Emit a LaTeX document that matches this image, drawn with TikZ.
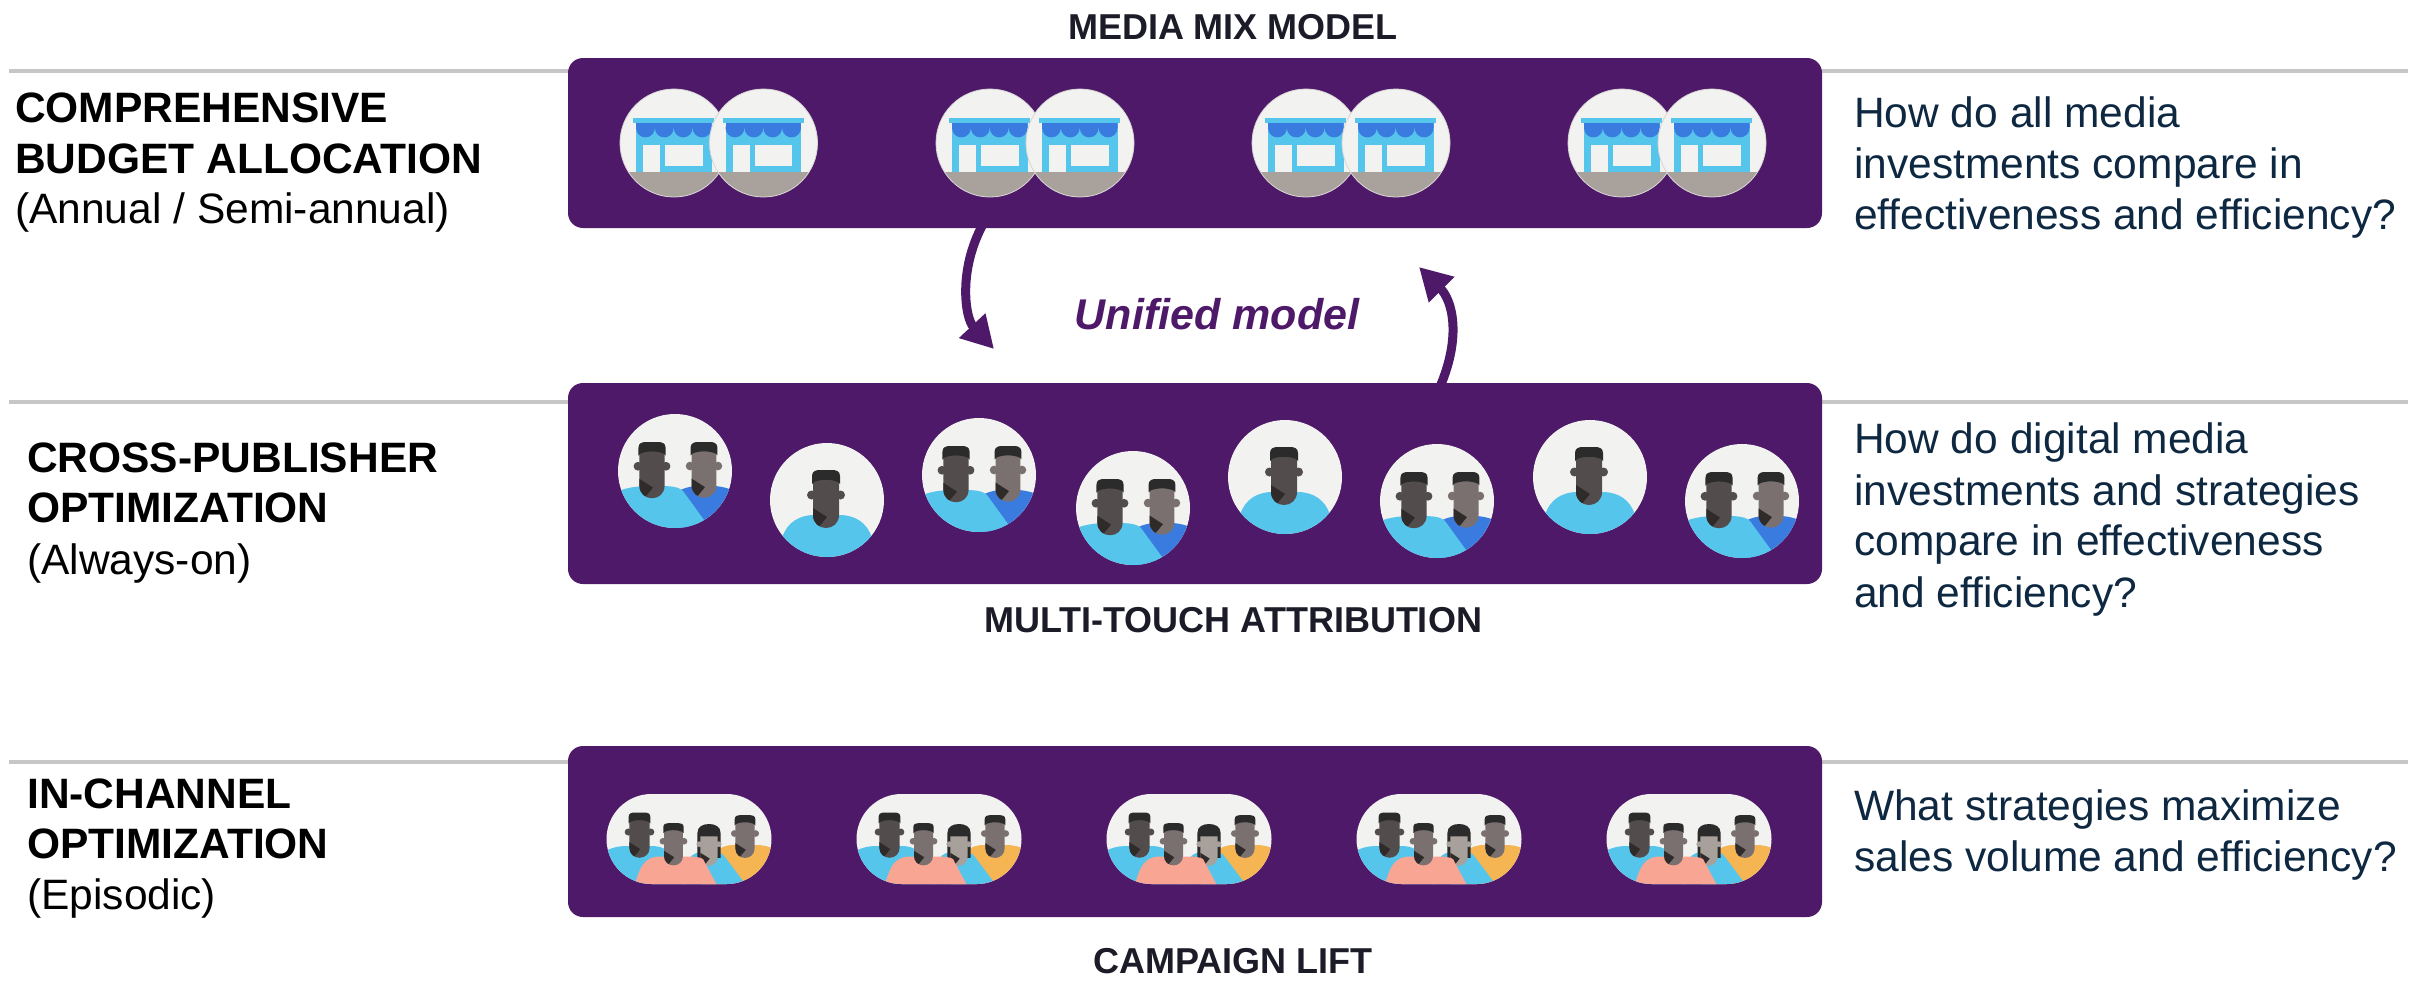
\documentclass[tikz,border=0pt]{standalone}
\usepackage{fontspec}
\setmainfont{Liberation Sans}
\usetikzlibrary{arrows.meta,calc}

\definecolor{panelc}{HTML}{4E1968}
\definecolor{rulec}{HTML}{C6C6C6}
\definecolor{iconbg}{HTML}{F2F2F0}
\definecolor{iconedge}{HTML}{D8D6D4}
\definecolor{skyc}{HTML}{56C5EC}
\definecolor{royalc}{HTML}{3A7BE0}
\definecolor{groundc}{HTML}{A9A19B}
\definecolor{facedark}{HTML}{524C4C}
\definecolor{facemid}{HTML}{7A7070}
\definecolor{facelight}{HTML}{A8A09A}
\definecolor{hairc}{HTML}{2B2B2B}
\definecolor{neckshade}{HTML}{2F2B2B}
\definecolor{salmonc}{HTML}{F9A594}
\definecolor{amberc}{HTML}{F5B553}
\definecolor{questc}{HTML}{0E2841}
\definecolor{tierc}{HTML}{1C1C28}

% head seen from the front: origin at the top of the hair, y grows downwards
\newcommand\malehead[4]{%
  \begin{scope}[shift={(#1,#2)},scale=#3]
    \fill[#4] (-14.5,25) circle (4.5) (14.5,25) circle (4.5);
    \fill[#4] (-13,8) -- (-13,45) .. controls (-13,53) and (-7,58) .. (0,58)
      .. controls (7,58) and (13,53) .. (13,45) -- (13,8) -- cycle;
    \begin{scope}
      \clip (-13,8) -- (-13,45) .. controls (-13,53) and (-7,58) .. (0,58)
        .. controls (7,58) and (13,53) .. (13,45) -- (13,8) -- cycle;
      \fill[neckshade] (-13,38) -- (1,47) -- (-13,64) -- cycle;
    \end{scope}
    \fill[hairc] (-14,14) -- (-14,6) .. controls (-14,1) and (-10,0) .. (-6,0)
      -- (6,0) .. controls (10,0) and (14,1) .. (14,6) -- (14,14)
      -- (12,12) .. controls (5,9) and (-5,9) .. (-12,12) -- cycle;
  \end{scope}}

\newcommand\femalehead[4]{%
  \begin{scope}[shift={(#1,#2)},scale=#3]
    \fill[hairc] (-16,47) -- (-16,12) .. controls (-16,4) and (-9,0) .. (0,0)
      .. controls (9,0) and (16,4) .. (16,12) -- (16,47) -- cycle;
    \fill[#4] (-13.5,28) circle (4) (13.5,28) circle (4);
    \fill[#4] (-12,17) -- (-12,45) .. controls (-12,53) and (-6,58) .. (0,58)
      .. controls (6,58) and (12,53) .. (12,45) -- (12,17) -- cycle;
    \begin{scope}
      \clip (-12,17) -- (-12,45) .. controls (-12,53) and (-6,58) .. (0,58)
        .. controls (6,58) and (12,53) .. (12,45) -- (12,17) -- cycle;
      \fill[neckshade] (-12,40) -- (1,48) -- (-12,64) -- cycle;
    \end{scope}
  \end{scope}}

% shop front in a round badge
\newcommand\shopicon[2]{%
  \begin{scope}[shift={(#1,#2)}]
    \fill[iconbg] (0,0) circle (54);
    \begin{scope}
      \clip (0,0) circle (54);
      \fill[groundc] (-60,29) rectangle (60,60);
      \fill[skyc] (-38,-20) rectangle (37.5,29);
      \begin{scope}
        \clip (-38,-20) rectangle (37.5,0);
        \fill[royalc] (-38,-20) rectangle (37.5,-15);
        \foreach \sx in {-28.56,-9.69,9.19,28.06}
          \fill[royalc] (\sx,-15) circle (9.4);
      \end{scope}
      \fill[skyc] (-41,-25) rectangle (40,-20);
      \fill[iconbg] (-31,2) rectangle (-14,29);
      \fill[iconbg] (-9,2) rectangle (28.6,23);
    \end{scope}
    \draw[iconedge, line width=0.8pt] (0,0) circle (54);
  \end{scope}}

% one person in a round badge
\newcommand\soloicon[2]{%
  \begin{scope}[shift={(#1,#2)}]
    \fill[iconbg] (0,0) circle (57);
    \begin{scope}
      \clip (0,0) circle (57);
      \fill[skyc] (-50,62) -- (-45,38) .. controls (-40,22) and (-28,16) .. (-15,15)
        -- (15,15) .. controls (28,16) and (40,22) .. (45,38) -- (50,62) -- cycle;
      \malehead{-1}{-30}{1}{facedark}
    \end{scope}
  \end{scope}}

% two people in a round badge
\newcommand\duoicon[2]{%
  \begin{scope}[shift={(#1,#2)}]
    \fill[iconbg] (0,0) circle (57);
    \begin{scope}
      \clip (0,0) circle (57);
      \fill[royalc] (0,60) -- (0,22) .. controls (8,17) and (15,15) .. (25,15)
        -- (40,15) .. controls (50,16) and (56,18) .. (62,22) -- (62,60) -- cycle;
      \malehead{29}{-29}{0.96}{facemid}
      \fill[skyc] (-62,60) -- (-62,22) .. controls (-50,17) and (-40,15) .. (-25,15)
        -- (-15,15) .. controls (-3,15) and (4,16) .. (8,20) -- (37,60) -- cycle;
      \malehead{-23}{-29}{0.97}{facedark}
    \end{scope}
  \end{scope}}

% four people in a pill-shaped badge
\newcommand\crowdicon[2]{%
  \begin{scope}[shift={(#1,#2)}]
    \fill[iconbg, rounded corners=45pt] (-82.5,-45) rectangle (82.5,45);
    \begin{scope}
      \clip[rounded corners=45pt] (-82.5,-45) rectangle (82.5,45);
      \fill[skyc] (-90,50) -- (-90,16) .. controls (-80,9) and (-72,7) .. (-62,7)
        -- (-38,7) .. controls (-28,7) and (-22,10) .. (-18,16) -- (-2,50) -- cycle;
      \malehead{-49.5}{-26.5}{0.78}{facedark}
      \fill[amberc] (10,50) -- (26,14) .. controls (31,8) and (37,6) .. (45,6)
        -- (67,6) .. controls (77,6) and (85,9) .. (92,14) -- (92,50) -- cycle;
      \malehead{56}{-24}{0.74}{facemid}
      \fill[skyc] (-8,50) -- (0,20) .. controls (3,15) and (8,13) .. (14,13)
        -- (27,13) .. controls (31,13) and (34,15) .. (36,18) -- (60,50) -- cycle;
      \femalehead{20}{-15}{0.72}{facelight}
      \fill[salmonc] (-56,50) -- (-50,33) .. controls (-46,23) and (-40,18) .. (-30,17.5)
        -- (-2,17.5) .. controls (5,17.5) and (11,18) .. (14,20) -- (30,50) -- cycle;
      \malehead{-15.5}{-16}{0.73}{facemid}
    \end{scope}
  \end{scope}}

\begin{document}
\begin{tikzpicture}[x=1pt,y=-1pt,
  panel/.style={fill=panelc, rounded corners=15pt, inner sep=0pt, draw=none},
  rule/.style={draw=rulec, line width=4pt},
  sidehead/.style={font=\fontsize{42.5}{51}\selectfont\bfseries, text=black, anchor=base west, inner sep=0pt},
  sidenote/.style={font=\fontsize{42.5}{51}\selectfont, text=black, anchor=base west, inner sep=0pt},
  question/.style={font=\fontsize{42.5}{51}\selectfont, text=questc, anchor=base west, inner sep=0pt},
  tier/.style={font=\fontsize{36}{43}\selectfont\bfseries, text=tierc, anchor=base, inner sep=0pt},
  flowarrow/.style={draw=panelc, line width=9pt, -{Triangle[length=32pt,width=34pt]}},
]
\useasboundingbox (0,0) rectangle (2422,980);

% separator rules behind the panels
\draw[rule] (9,71) -- (2408,71);
\draw[rule] (9,402) -- (2408,402);
\draw[rule] (9,762) -- (2408,762);

% the three model panels
\node[panel, minimum width=1254pt, minimum height=170pt] (mmm) at (1195,143) {};
\node[panel, minimum width=1254pt, minimum height=201pt] (mta) at (1195,483.5) {};
\node[panel, minimum width=1254pt, minimum height=171pt] (lift) at (1195,831.5) {};

% panel titles
\node[tier] (mmmtitle) at (1233,39) {MEDIA MIX MODEL};
\node[tier] (mtatitle) at (1233,632) {MULTI-TOUCH ATTRIBUTION};
\node[tier] (lifttitle) at (1233,973) {CAMPAIGN LIFT};

% shops
\shopicon{674}{143}\shopicon{763.5}{143}
\shopicon{990}{143}\shopicon{1080}{143}
\shopicon{1306}{143}\shopicon{1396}{143}
\shopicon{1622}{143}\shopicon{1712}{143}

% individuals
\duoicon{675}{471}
\soloicon{827}{500}
\duoicon{979}{475}
\duoicon{1133}{508}
\soloicon{1285}{477}
\duoicon{1437}{501}
\soloicon{1590}{477}
\duoicon{1742}{501}

% audiences
\crowdicon{689}{839}
\crowdicon{939}{839}
\crowdicon{1189}{839}
\crowdicon{1439}{839}
\crowdicon{1689}{839}

% loop between the two upper models
\coordinate (downtip) at (994,349);
\coordinate (uptip) at (1419,267);
\draw[flowarrow] ([xshift=-212pt,yshift=4pt]mmm.south) .. controls (958,270) and (965,318) .. (downtip);
\draw[flowarrow] ([xshift=245pt,yshift=-4pt]mta.north) .. controls (1462,335) and (1452,300) .. (uptip);
\node[font=\fontsize{43}{52}\selectfont\bfseries\itshape, text=panelc, anchor=base, inner sep=0pt] (unified) at (1217,329) {Unified model};

% left column: scope of each decision
\node[sidehead] (l1a) at (15,122) {COMPREHENSIVE};
\node[sidehead] (l1b) at (15,173) {BUDGET ALLOCATION};
\node[sidenote] (l1c) at (15,223) {(Annual / Semi-annual)};

\node[sidehead] (l2a) at (27,472) {CROSS-PUBLISHER};
\node[sidehead] (l2b) at (27,522) {OPTIMIZATION};
\node[sidenote] (l2c) at (27,574) {(Always-on)};

\node[sidehead] (l3a) at (27,808) {IN-CHANNEL};
\node[sidehead] (l3b) at (27,858) {OPTIMIZATION};
\node[sidenote] (l3c) at (27,909) {(Episodic)};

% right column: questions answered
\node[question] (q1a) at (1854,127) {How do all media};
\node[question] (q1b) at (1854,178) {investments compare in};
\node[question] (q1c) at (1854,229) {effectiveness and efficiency?};

\node[question] (q2a) at (1854,453) {How do digital media};
\node[question] (q2b) at (1854,505) {investments and strategies};
\node[question] (q2c) at (1854,555) {compare in effectiveness};
\node[question] (q2d) at (1854,607) {and efficiency?};

\node[question] (q3a) at (1854,820) {What strategies maximize};
\node[question] (q3b) at (1854,871) {sales volume and efficiency?};
\end{tikzpicture}
\end{document}
